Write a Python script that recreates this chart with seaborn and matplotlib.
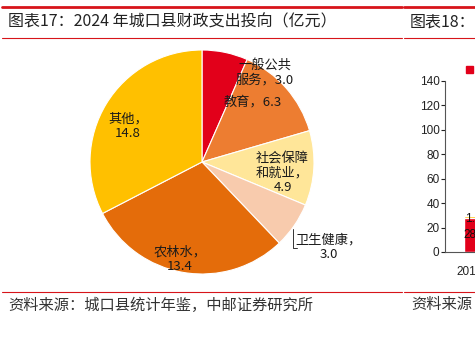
import matplotlib
matplotlib.use("Agg")
import matplotlib.pyplot as plt
from matplotlib.lines import Line2D
import seaborn as sns

# ---------------- data ----------------
pie_names = ["一般公共服务", "教育", "社会保障和就业", "卫生健康", "农林水", "其他"]
pie_values = [3.0, 6.3, 4.9, 3.0, 13.4, 14.8]
pie_labels = ["一般公共\n服务，3.0", "教育，6.3", "社会保障\n和就业，\n4.9",
              "卫生健康，\n3.0", "农林水，\n13.4", "其他，\n14.8"]

bar_categories = ["2019"]
bar_red = [28]
bar_yellow = [1.5]
bar_yticks = [0, 20, 40, 60, 80, 100, 120, 140]

title_left = "图表17：2024 年城口县财政支出投向（亿元）"
title_right = "图表18："
source_left = "资料来源：城口县统计年鉴，中邮证券研究所"
source_right = "资料来源"

# ---------------- style ----------------
sns.set_theme(style="white")
plt.rcParams["font.family"] = ["Noto Sans CJK SC", "DejaVu Sans"]

W, H = 475, 344
fig = plt.figure(figsize=(W / 100, H / 100), dpi=100)


def fx(px):
    return px / W


def fy(py):
    return 1 - py / H


RED = "#D7141A"
pie_colors = ["#E2001A", "#ED7D31", "#FFE699", "#F8CBAD", "#E46C0A", "#FFC000"]

# header / footer lines and text
for y, lw in [(6.5, 2.0), (38, 0.8), (292, 0.8)]:
    fig.add_artist(Line2D([fx(2), fx(402)], [fy(y), fy(y)], color=RED, lw=lw))
    fig.add_artist(Line2D([fx(404), fx(475)], [fy(y), fy(y)], color=RED, lw=lw))

fig.text(fx(8), fy(22), title_left, fontsize=11.5, va="center", ha="left", color="#222222")
fig.text(fx(410), fy(22), title_right, fontsize=11.5, va="center", ha="left", color="#222222")
fig.text(fx(8), fy(305), source_left, fontsize=11, va="center", ha="left", color="#333333")
fig.text(fx(411), fy(305), source_right, fontsize=11, va="center", ha="left", color="#333333")

# ---------------- pie ----------------
cx, cy, R = 202, 162, 112
ax = fig.add_axes([fx(cx - R), fy(cy + R), 2 * R / W, 2 * R / H])
ax.pie(pie_values, colors=pie_colors, startangle=90, counterclock=False, radius=1.0,
       wedgeprops=dict(edgecolor="white", linewidth=0.8))
ax.set_xlim(-1, 1)
ax.set_ylim(-1, 1)
ax.set_aspect("equal")
ax.axis("off")

label_pos = [(0.56, 0.80), (0.455, 0.536), (0.72, -0.10),
             (1.13, -0.76), (-0.20, -0.87), (-0.66, 0.32)]
for txt, (x, y) in zip(pie_labels, label_pos):
    ax.text(x, y, txt, ha="center", va="center", fontsize=9.5, color="#1a1a1a",
            multialignment="center", clip_on=False, linespacing=1.15)
# leader line for 卫生健康
ax.plot([0.81, 0.81, 0.845], [-0.60, -0.765, -0.765], color="#333333", lw=0.7,
        clip_on=False)

# ---------------- partial bar chart ----------------
LAT = ["Liberation Sans", "DejaVu Sans"]
ax2 = fig.add_axes([fx(445), fy(252), 200 / W, (252 - 80.7) / H])
total = [r + y for r, y in zip(bar_red, bar_yellow)]
sns.barplot(x=bar_categories, y=total, color="#FFC000", width=0.3, ax=ax2,
            saturation=1, order=bar_categories)
sns.barplot(x=bar_categories, y=bar_red, color="#E2001A", width=0.3, ax=ax2,
            saturation=1, order=bar_categories)
ax2.set_xlim(-0.625, 4.375)
ax2.set_ylim(0, 140)
ax2.set_yticks(bar_yticks)
ax2.tick_params(axis="y", which="both", left=True, length=3, width=0.8,
                labelsize=8.5, colors="#222222", pad=1)
ax2.tick_params(axis="x", bottom=False, labelsize=8.5, colors="#222222", pad=4)
for lab in ax2.get_xticklabels() + ax2.get_yticklabels():
    lab.set_family(LAT)
for s in ["top", "right"]:
    ax2.spines[s].set_visible(False)
for s in ["left", "bottom"]:
    ax2.spines[s].set_color("#555555")
    ax2.spines[s].set_linewidth(0.8)
ax2.set_ylabel("")
# labels
ax2.bar_label(ax2.containers[1], labels=[f"{v:g}" for v in bar_red],
              label_type="center", fontsize=8.5, color="#111111", family=LAT)
for i, (r, yv) in enumerate(zip(bar_red, bar_yellow)):
    ax2.text(i - 0.12, r + yv / 2 - 1.5, f"{yv:g}", ha="left", va="center",
             fontsize=8.5, color="#111111", family=LAT)
ax2.legend(handles=[plt.Rectangle((0, 0), 1, 1, color="#E2001A")],
           labels=["  "], loc="center left", prop={"size": 7},
           bbox_to_anchor=(fx(465.5), fy(70)), bbox_transform=fig.transFigure,
           frameon=False, handlelength=0.75, handleheight=0.75,
           borderpad=0, borderaxespad=0, handletextpad=0.3)

fig.savefig("out.png", dpi=100)
